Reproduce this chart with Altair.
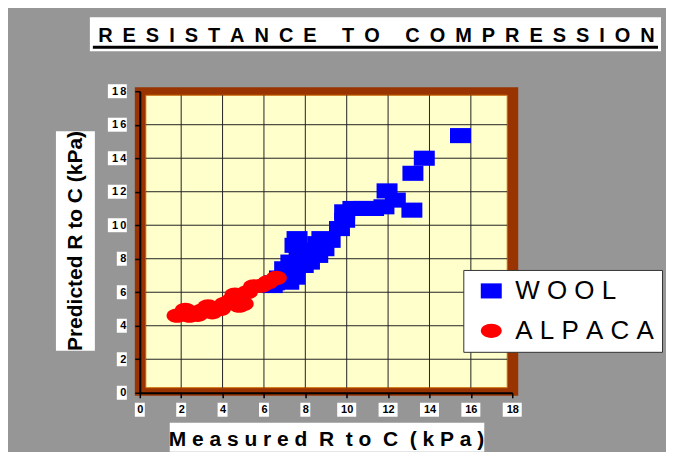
import altair as alt
import pandas as pd

# ---------------- data ----------------
TITLE = "RESISTANCE TO COMPRESSION"
X_TITLE = "Measured R to C (kPa)"
Y_TITLE = "Predicted R to C (kPa)"
SERIES = ["WOOL", "ALPACA"]
COLORS = ["#0000FF", "#FF0000"]
TICKS = [0, 2, 4, 6, 8, 10, 12, 14, 16, 18]
GRID = [2, 4, 6, 8, 10, 12, 14, 16]

wool_x = [15.5, 13.75, 13.2, 13.15, 11.95, 12.35, 11.8, 11.3, 10.8, 10.3,
          9.9, 9.9, 9.65, 9.2, 8.8, 8.9, 8.6, 8.6, 8.2, 8.2,
          7.9, 7.6, 7.5, 7.7, 7.3, 7.5, 7.2, 7.0, 6.75, 6.5, 6.4]
wool_y = [15.35, 14.0, 13.1, 10.9, 12.05, 11.5, 11.1, 11.0, 11.0, 11.0,
          10.8, 10.3, 9.8, 9.1, 9.2, 8.6, 8.9, 8.2, 8.5, 7.8,
          7.6, 9.2, 8.8, 8.2, 7.8, 6.9, 6.6, 7.4, 6.85, 6.56, 6.4]

alpaca_x = [1.8, 2.2, 2.4, 2.8, 3.0, 3.3, 3.5, 3.9, 4.1, 4.4, 4.6, 4.8, 5.0,
            5.2, 5.5, 5.9, 6.2, 6.6]
alpaca_y = [4.6, 4.95, 4.6, 4.65, 4.9, 5.15, 4.8, 5.0, 5.3, 5.5, 5.85, 5.2,
            5.3, 6.0, 6.35, 6.4, 6.6, 6.85]

# ---------------- styling ----------------
FONT = "Liberation Sans"
BG = "#969696"
BROWN = "#993300"
YELLOW = "#FFFFCC"

WOOL_SHAPE = "M-1,-0.72L1,-0.72L1,0.72L-1,0.72Z"
ALPACA_SHAPE = ("M-1,0C-1,-0.39,-0.55,-0.68,0,-0.68C0.55,-0.68,1,-0.39,1,0"
                "C1,0.39,0.55,0.68,0,0.68C-0.55,0.68,-1,0.39,-1,0Z")
YBOX1 = "M-1.43,-1L0,-1L0,1L-1.43,1Z"
YBOX2 = "M-2.71,-1L0,-1L0,1L-2.71,1Z"
XBOX1 = "M-0.71,-1L0.71,-1L0.71,1L-0.71,1Z"
XBOX2 = "M-1.36,-1L1.36,-1L1.36,1L-1.36,1Z"


def spaced(text, gap, word_gap):
    return word_gap.join(gap.join(list(w)) for w in text.split(" "))


title_str = spaced(TITLE, "\u2002", "\u2002\u00a0\u2002")
xtitle_str = spaced(X_TITLE, "\u00a0", "\u00a0\u00a0")

xs = alt.Scale(domain=[0, 18], nice=False, zero=True)
ys = alt.Scale(domain=[0, 18], nice=False, zero=True)

xaxis = alt.Axis(values=TICKS, title=None, grid=False, domainColor="black",
                 domainWidth=2, tickColor="black", tickWidth=1.5, tickSize=5,
                 labelFont=FONT, labelFontWeight="bold", labelFontSize=11,
                 labelColor="black", labelPadding=12, labelBaseline="middle",
                 labelFlush=False, labelOverlap=False, zindex=1)
yaxis = alt.Axis(values=TICKS, title=None, grid=False, domainColor="black",
                 domainWidth=2, tickColor="black", tickWidth=1.5, tickSize=5,
                 labelFont=FONT, labelFontWeight="bold", labelFontSize=11,
                 labelColor="black", labelPadding=9, labelFlush=False,
                 labelOverlap=False, zindex=1,
                 labelExpr="join(split(datum.label, ''), '\u2009')")

one = pd.DataFrame({"k": [0]})
ticks_df = pd.DataFrame({"x": TICKS, "y": TICKS})
grid_df = pd.DataFrame({"x": GRID, "y": GRID})

df = pd.DataFrame({
    "x": wool_x + alpaca_x,
    "y": wool_y + alpaca_y,
    "series": ["WOOL"] * len(wool_x) + ["ALPACA"] * len(alpaca_x),
})

X = lambda: alt.X("x:Q", scale=xs, axis=xaxis)
Y = lambda: alt.Y("y:Q", scale=ys, axis=yaxis)

# ---------------- frame ----------------
brown = alt.Chart(one).mark_rect(color=BROWN).encode(
    x=alt.value(-5), x2=alt.value(379), y=alt.value(-4), y2=alt.value(305))
yellow = alt.Chart(one).mark_rect(color=YELLOW, stroke="#CC6600", strokeWidth=1).encode(
    x=alt.value(6), x2=alt.value(368), y=alt.value(4), y2=alt.value(297))

vgrid = alt.Chart(grid_df).mark_rule(color="#222222", strokeWidth=1).encode(
    x=X(), y=alt.value(4), y2=alt.value(297))
hgrid = alt.Chart(grid_df).mark_rule(color="#222222", strokeWidth=1).encode(
    y=Y(), x=alt.value(6), x2=alt.value(368))


# white boxes behind tick labels
def box_layer(shape, cond, axis_ch):
    base = alt.Chart(ticks_df).transform_filter(cond).mark_point(
        shape=shape, size=196, filled=True, color="white", opacity=1, strokeWidth=0)
    if axis_ch == "y":
        return base.encode(y=Y(), x=alt.value(-13))
    return base.encode(x=X(), y=alt.value(319))


yb1 = box_layer(YBOX1, "datum.y < 10", "y")
yb2 = box_layer(YBOX2, "datum.y >= 10", "y")
xb1 = box_layer(XBOX1, "datum.x < 10", "x")
xb2 = box_layer(XBOX2, "datum.x >= 10", "x")

# ---------------- data points ----------------
leg = alt.Legend(
    title=None, orient="none", legendX=324, legendY=179, direction="vertical",
    fillColor="white", strokeColor="#333333", padding=8, symbolOffset=7,
    labelOffset=11, labelFont=FONT, labelFontSize=26, labelColor="black",
    rowPadding=14, symbolSize=441, symbolStrokeWidth=0, labelLimit=300,
    labelExpr="join(split(datum.label, ''), '\u00a0')",
)

points = alt.Chart(df).mark_point(filled=True, opacity=1, size=441, strokeWidth=0).encode(
    x=X(),
    y=Y(),
    color=alt.Color("series:N", scale=alt.Scale(domain=SERIES, range=COLORS), legend=leg),
    shape=alt.Shape("series:N", scale=alt.Scale(domain=SERIES, range=[WOOL_SHAPE, ALPACA_SHAPE]),
                    legend=leg),
)

# ---------------- titles ----------------
tbox = alt.Chart(one).mark_rect(color="white").encode(
    x=alt.value(-50), x2=alt.value(522), y=alt.value(-74), y2=alt.value(-40))
tline = alt.Chart(one).mark_rule(color="black", strokeWidth=3).encode(
    x=alt.value(-47), x2=alt.value(519), y=alt.value(-44))
ttext = alt.Chart(one).mark_text(font=FONT, fontWeight="bold", fontSize=20,
                                 align="center", baseline="alphabetic", color="black").encode(
    x=alt.value(237), y=alt.value(-49), text=alt.value(title_str))

xtbox = alt.Chart(one).mark_rect(color="white").encode(
    x=alt.value(30), x2=alt.value(345), y=alt.value(332), y2=alt.value(361))
xttext = alt.Chart(one).mark_text(font=FONT, fontWeight="bold", fontSize=21,
                                  align="center", baseline="alphabetic", color="black").encode(
    x=alt.value(187), y=alt.value(355), text=alt.value(xtitle_str))

ytbox = alt.Chart(one).mark_rect(color="white").encode(
    x=alt.value(-84), x2=alt.value(-45), y=alt.value(40), y2=alt.value(260))
yttext = alt.Chart(one).mark_text(font=FONT, fontWeight="bold", fontSize=21, angle=270,
                                  align="center", baseline="middle", color="black").encode(
    x=alt.value(-64), y=alt.value(150), text=alt.value(Y_TITLE))

chart = alt.layer(
    brown, yellow, vgrid, hgrid, yb1, yb2, xb1, xb2, points,
    tbox, tline, ttext, xtbox, xttext, ytbox, yttext,
).properties(
    width=373, height=302,
    autosize=alt.AutoSizeParams(type="none"),
    padding={"left": 132, "top": 83, "right": 154, "bottom": 59},
).configure(background=BG).configure_view(stroke=None)

chart.save("out.html", embed_options={"renderer": "svg", "actions": False})
